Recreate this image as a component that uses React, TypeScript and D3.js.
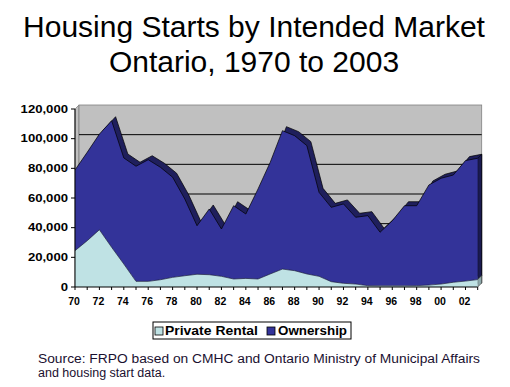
import React from "react";
import { area, line, range, scaleLinear, format } from "d3";

const years = range(1970, 2004);
const privateRental = [
  24500, 31200, 38600, 26800, 15500, 3800, 3800, 4900, 6500, 7600, 8600, 8300,
  7200, 5400, 5800, 5400, 8800, 12100, 11000, 8800, 7200, 3600, 2500, 2000, 900,
  800, 800, 800, 900, 1300, 2000, 3200, 4000, 5000
];
const ownership = [
  54400, 59600, 64500, 85300, 71500, 77600, 82000, 75800, 67500, 51700, 32700,
  44300, 31900, 49400, 43400, 60700, 75300, 93300, 91000, 86500, 56600, 50100,
  53500, 45000, 47200, 36100, 43900, 54000, 53900, 67500, 71300, 72300, 81200,
  81800
];
const yTicks = [0, 20000, 40000, 60000, 80000, 100000, 120000];
const xLabelYears = years.filter((y) => (y - 1970) % 2 === 0);
const seriesNames = ["Private Rental", "Ownership"];

const W = 510;
const H = 387;
const DX = 4;
const DY = -4;

export default function App() {
  const x = scaleLinear().domain([1970, 2003]).range([75, 477.7]);
  const y = scaleLinear().domain([0, 120000]).range([287, 109]);

  const rows = years.map((yr, i) => ({
    year: yr,
    rent: privateRental[i],
    total: privateRental[i] + ownership[i]
  }));

  const ownArea = area<any>()
    .x((d) => x(d.year))
    .y0((d) => y(d.rent))
    .y1((d) => y(d.total));
  const rentArea = area<any>()
    .x((d) => x(d.year))
    .y0(y(0))
    .y1((d) => y(d.rent));
  const topLine = line<any>()
    .x((d) => x(d.year))
    .y((d) => y(d.total));
  const rentLine = line<any>()
    .x((d) => x(d.year))
    .y((d) => y(d.rent));

  const fmt = format(",");
  const x0 = x(1970);
  const x1 = x(2003);
  const yb = y(0);
  const yt = y(120000);
  const last = rows[rows.length - 1];

  return (
    <svg
      width={W}
      height={H}
      style={{ position: "absolute", left: 0, top: 0, background: "#fff" }}
      fontFamily="'Liberation Sans', Arial, sans-serif"
    >
      {/* title */}
      <g textAnchor="middle" fontSize={30} fill="#000">
        <text x={254} y={37}>Housing Starts by Intended Market</text>
        <text x={254} y={72}>Ontario, 1970 to 2003</text>
      </g>

      {/* back wall + side wall */}
      <polygon
        points={`${x0},${yt} ${x0 + DX},${yt + DY} ${x0 + DX},${yb + DY} ${x0},${yb}`}
        fill="#c0c0c0"
        stroke="#808080"
        strokeWidth={0.8}
      />
      <rect
        x={x0 + DX}
        y={yt + DY}
        width={x1 - x0}
        height={yb - yt}
        fill="#c0c0c0"
        stroke="#808080"
        strokeWidth={0.8}
      />
      {yTicks.slice(1, -1).map((v) => (
        <line
          key={v}
          x1={x0 + DX}
          x2={x1 + DX}
          y1={y(v) + DY}
          y2={y(v) + DY}
          stroke="#000"
          strokeWidth={1}
        />
      ))}

      {/* 3D depth faces */}
      <g transform={`translate(${DX},${DY})`}>
        <path d={ownArea(rows)!} fill="#1f1f5c" stroke="#000" strokeWidth={0.7} />
        <path d={rentArea(rows)!} fill="#8fa9ab" stroke="#333" strokeWidth={0.7} />
      </g>
      {/* side faces at the right end */}
      <polygon
        points={`${x1},${y(last.total)} ${x1 + DX},${y(last.total) + DY} ${x1 + DX},${y(last.rent) + DY} ${x1},${y(last.rent)}`}
        fill="#1a1a50"
        stroke="#000"
        strokeWidth={0.6}
      />
      <polygon
        points={`${x1},${yb} ${x1 + DX},${yb + DY} ${x1 + DX},${y(last.rent) + DY} ${x1},${y(last.rent)}`}
        fill="#8fa9ab"
        stroke="#333"
        strokeWidth={0.6}
      />

      {/* front areas */}
      <path d={ownArea(rows)!} fill="#333399" />
      <path d={rentArea(rows)!} fill="#bfe2e4" />
      <path d={topLine(rows)!} fill="none" stroke="#000" strokeWidth={0.7} />
      <path d={rentLine(rows)!} fill="none" stroke="#1a1a40" strokeWidth={0.7} />

      {/* y axis */}
      <line x1={x0} x2={x0} y1={yt} y2={yb} stroke="#000" />
      {yTicks.map((v) => (
        <g key={v} transform={`translate(${x0},${y(v)})`}>
          <line x1={-4} x2={0} stroke="#000" />
          <text
            transform="translate(-7,3.7) scale(1.25,1)"
            textAnchor="end"
            fontSize={10.5}
            fontWeight="bold"
          >
            {fmt(v)}
          </text>
        </g>
      ))}

      {/* x axis */}
      <line x1={x0} x2={x1} y1={yb} y2={yb} stroke="#000" />
      {years.map((yr) => (
        <line key={yr} x1={x(yr)} x2={x(yr)} y1={yb} y2={yb + 3} stroke="#000" />
      ))}
      {xLabelYears.map((yr) => (
        <text
          key={yr}
          x={x(yr) - 1}
          y={305}
          textAnchor="middle"
          fontSize={10.5}
          fontWeight="bold"
        >
          {String(yr).slice(2)}
        </text>
      ))}

      {/* legend */}
      <rect x={153} y={322} width={198} height={17} fill="#fff" stroke="#000" strokeWidth={1} />
      <rect x={155} y={327} width={8} height={8} fill="#bfe2e4" stroke="#000" strokeWidth={0.8} />
      <text x={165} y={335} fontSize={12.5} fontWeight="bold" textLength={93} lengthAdjust="spacingAndGlyphs">
        {seriesNames[0]}
      </text>
      <rect x={267} y={327} width={8} height={8} fill="#333399" stroke="#000" strokeWidth={0.8} />
      <text x={278} y={335} fontSize={12.5} fontWeight="bold" textLength={69} lengthAdjust="spacingAndGlyphs">
        {seriesNames[1]}
      </text>

      {/* source */}
      <g fontSize={12.5} fill="#1a1030" style={{ whiteSpace: "pre" }}>
        <text x={38} y={363} textLength={442} lengthAdjust="spacingAndGlyphs">
          {"Source:  FRPO  based on CMHC and Ontario Ministry of Municipal Affairs"}
        </text>
        <text x={38} y={377}>and housing start data.</text>
      </g>
    </svg>
  );
}
